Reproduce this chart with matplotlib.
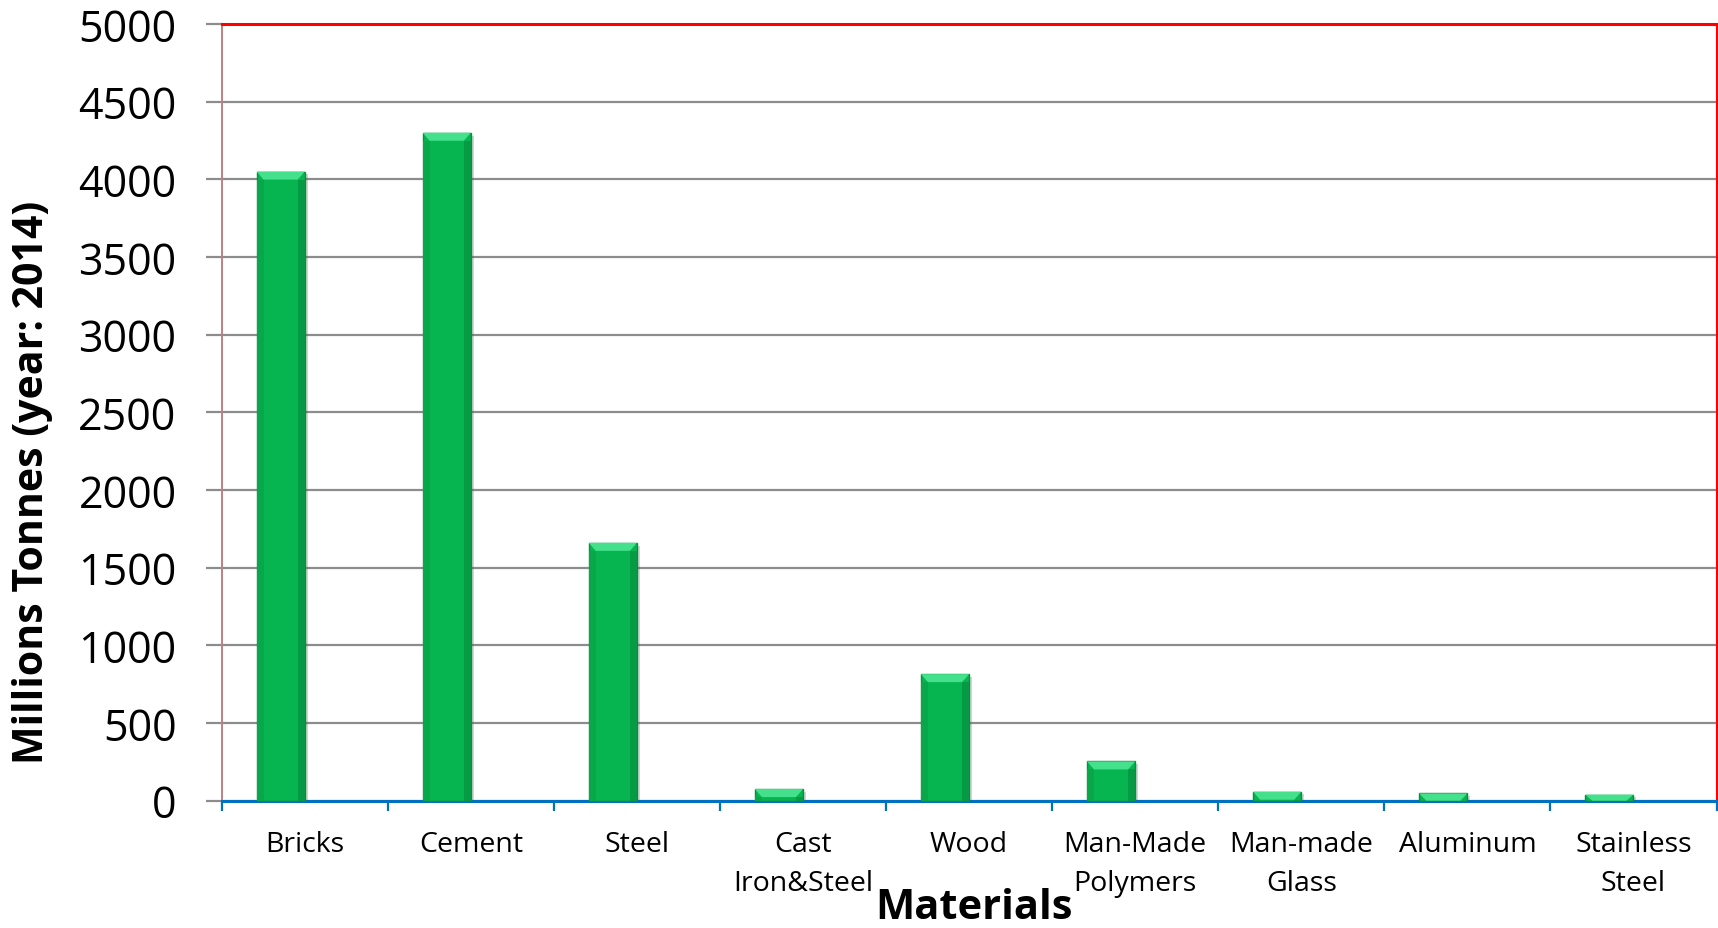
import matplotlib
matplotlib.use("Agg")
import matplotlib.pyplot as plt
from matplotlib.patches import Polygon
import matplotlib.patheffects as pe
import numpy as np

categories = ["Bricks", "Cement", "Steel", "Cast\nIron&Steel", "Wood",
              "Man-Made\nPolymers", "Man-made\nGlass", "Aluminum", "Stainless\nSteel"]
values = [4050, 4300, 1660, 75, 815, 253, 58, 47, 39]
yticks = [0, 500, 1000, 1500, 2000, 2500, 3000, 3500, 4000, 4500, 5000]

W, H, DPI = 1718, 929, 100
fig = plt.figure(figsize=(W / DPI, H / DPI), dpi=DPI)
ax = fig.add_axes([221.7 / W, 1 - 801.7 / H, (1716.5 - 221.7) / W, (801.7 - 25) / H])

x = np.arange(len(categories))
bw = 0.29
xb = x - bw / 2  # bars sit in the left half of each category slot
ax.bar(xb, values, width=bw, color="#06b550", edgecolor="#0b8d3f",
       linewidth=1.0, zorder=3,
       path_effects=[pe.SimplePatchShadow(offset=(2, -2), alpha=0.25, shadow_rgbFace="#555555"), pe.Normal()])

ax.set_xlim(-0.5, len(categories) - 0.5)
ax.set_ylim(0, 5000)

# bevel highlight on each bar top
px_y = 5000 / (801.7 - 25)
px_x = len(categories) / (1716.5 - 221.7)
bh = 8 * px_y
dx = 7 * px_x
for xi, v in zip(xb, values):
    h = min(bh, v)
    poly = Polygon([(xi - bw / 2, v), (xi + bw / 2, v), (xi + bw / 2 - dx, v - h), (xi - bw / 2 + dx, v - h)],
                   closed=True, facecolor="#45e08c", edgecolor="none", zorder=4)
    ax.add_patch(poly)
    ax.bar(xi + bw / 2 - dx / 2, v - h, width=dx, bottom=0, color="#079a44", zorder=3.5, linewidth=0)
    ax.bar(xi - bw / 2 + dx / 2, v - h, width=dx, bottom=0, color="#08a84a", zorder=3.5, linewidth=0)

ax.set_yticks(yticks)
ax.set_yticklabels([str(t) for t in yticks], fontsize=31, family=["Open Sans", "DejaVu Sans"])
ax.yaxis.grid(True, color="#8c8c8c", linewidth=1.6, zorder=0)
ax.set_axisbelow(True)
ax.tick_params(axis="y", length=11.5, width=1.6, color="#8c8c8c", pad=21)

ax.set_xticks(x)
ax.set_xticklabels(categories, fontsize=20.5, family=["Open Sans", "DejaVu Sans"], linespacing=1.55)
ax.tick_params(axis="x", which="major", length=0, pad=21)
ax.set_xticks(np.arange(-0.5, len(categories)), minor=True)
ax.tick_params(axis="x", which="minor", length=7.5, width=1.6, color="#0070c0", direction="out")

for s in ["top", "right"]:
    ax.spines[s].set_color("#ff0000")
    ax.spines[s].set_linewidth(2.2)
ax.spines["left"].set_color("#c07f80")
ax.spines["left"].set_linewidth(1.4)
ax.spines["bottom"].set_color("#0070c0")
ax.spines["bottom"].set_linewidth(2.2)

fig.text(33 / W, 1 - 482 / H, "Millions Tonnes (year: 2014)", fontsize=29.5, fontweight="bold",
         family=["Open Sans", "DejaVu Sans"], rotation=90, ha="center", va="center")
fig.text(974 / W, 1 - 909 / H, "Materials", fontsize=30, fontweight="bold",
         family=["Open Sans", "DejaVu Sans"], ha="center", va="center")

fig.savefig("out.png", dpi=DPI)
